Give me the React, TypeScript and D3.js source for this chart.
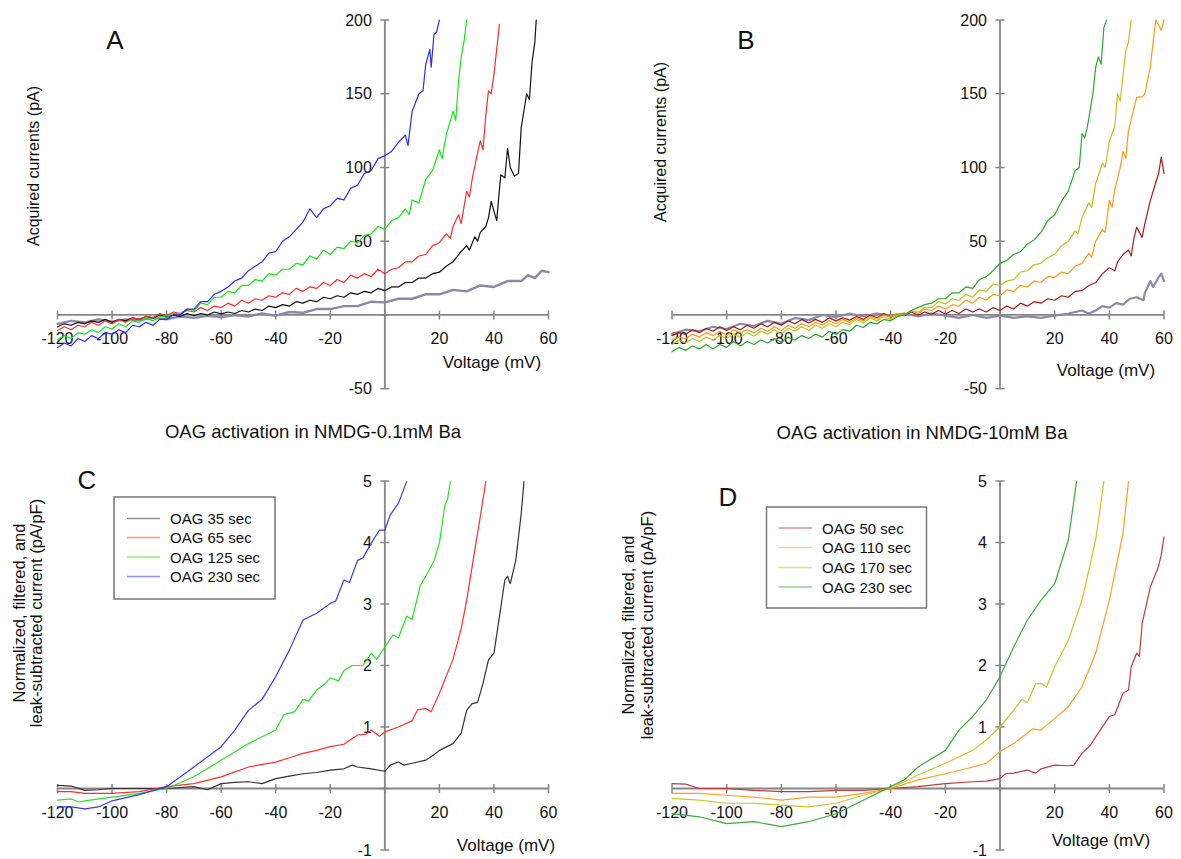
import React from "react";
import * as d3 from "d3";

// ---------- Tick labels ----------
const xTicks = [-120, -100, -80, -60, -40, -20, 20, 40, 60];
const xTickMarks = [-120, -100, -80, -60, -40, -20, 0, 20, 40, 60];
const yTicksAB = [-50, 50, 100, 150, 200];
const yTickMarksAB = [-50, 0, 50, 100, 150, 200];
const yTicksCD = [-1, 1, 2, 3, 4, 5];
const yTickMarksCD = [-1, 0, 1, 2, 3, 4, 5];

// ---------- Panel A : acquired currents, NMDG-0.1mM Ba (mV, pA) ----------
const A_ctrl: [number, number][] = [[-120,-6],[-115,-4],[-110,-5],[-105,-3],[-100,-4.5],[-95,-3],[-90,-3.5],[-85,-2],[-80,-3],[-75,-1],[-70,-2],[-65,-0.5],[-60,-1.5],[-55,0],[-50,-1],[-45,1],[-40,-0.5],[-35,2],[-30,1.5],[-25,4],[-20,4],[-15,6],[-10,6],[-5,9],[0,8.5],[5,11],[10,11],[15,14],[20,14],[25,17],[30,16],[35,20],[40,19],[45,23],[50,23],[52.5,27],[55,25],[57.5,30],[60,29]];
const A_35: [number, number][] = [[-120,-8],[-117.5,-6],[-115,-7],[-112.5,-5],[-110,-6],[-107.5,-4],[-105,-5],[-102.5,-3],[-100,-5],[-97.5,-3],[-95,-4],[-92.5,-2],[-90,-3],[-87.5,-1],[-85,-2],[-82.5,0],[-80,-1.5],[-77.5,0],[-75,-1],[-72.5,1],[-70,-0.5],[-67.5,1],[-65,0],[-62.5,2],[-60,0.7],[-57.5,2],[-55,1],[-52.5,3],[-50,2],[-47.5,4],[-45,3],[-42.5,6],[-40,5],[-37.5,7],[-35,6],[-32.5,9],[-30,8],[-27.5,10],[-25,9],[-22.5,12],[-20,11],[-17.5,13],[-15,12],[-12.5,15],[-10,14],[-7.5,16],[-5,15],[-2.5,18],[0,16.5],[2.5,19],[5,19],[7.5,22],[10,22],[12.5,25],[15,25],[17.5,28],[20,29],[22.5,33],[25,36],[27.5,42],[30,47],[31,44],[33,53],[34,50],[35,56],[37,60],[38,66],[39,77],[41,64],[42.5,95],[44,93],[45,113],[46,100],[47.5,94],[49,96],[50,127],[52,150],[53,146],[54,172],[55,185],[55.5,200]];
const A_65: [number, number][] = [[-120,-10.5],[-117.5,-8],[-115,-10],[-112.5,-7],[-110,-8],[-107.5,-5],[-105,-7],[-102.5,-4],[-100,-6],[-97.5,-3],[-95,-5],[-92.5,-2],[-90,-3],[-87.5,-1],[-85,-2],[-82.5,1],[-80,-0.5],[-77.5,2],[-75,1],[-72.5,3],[-70,2],[-67.5,5],[-65,3],[-62.5,6],[-60,5],[-57.5,8],[-55,6],[-52.5,10],[-50,8],[-47.5,11],[-45,10],[-42.5,13],[-40,12],[-37.5,15],[-35,14],[-32.5,18],[-30,16],[-27.5,19],[-25,18],[-22.5,22],[-20,20],[-17.5,24],[-15,22],[-12.5,27],[-10,25],[-7.5,28],[-5,26],[-2.5,31],[0,28],[2.5,31],[5,32],[7.5,36],[10,36],[12.5,40],[15,41],[17.5,47],[20,49],[22.5,55],[24,52],[25,60],[27,68],[28,62],[30,84],[31,80],[32,92],[34,110],[35,118],[36,112],[37,135],[38,152],[39,150],[40,163],[41,180],[42,197]];
const A_125: [number, number][] = [[-120,-17],[-117.5,-14],[-115,-16],[-112.5,-12],[-110,-13],[-107.5,-10],[-105,-12],[-102.5,-8],[-100,-9.5],[-97.5,-6],[-95,-8],[-92.5,-4],[-90,-5],[-87.5,-2],[-85,-4],[-82.5,-1],[-80,-1.5],[-77.5,1],[-75,1],[-72.5,4],[-70,3],[-67.5,8],[-65,7],[-62.5,12],[-60,12],[-57.5,16],[-55,15],[-52.5,20],[-50,20],[-47.5,24],[-45,23],[-42.5,28],[-40,27],[-37.5,31],[-35,31],[-32.5,35],[-30,34],[-27.5,40],[-25,38],[-22.5,44],[-20,41],[-17.5,46],[-15,45],[-12.5,50],[-10,49],[-7.5,54],[-5,55],[-2.5,60],[0,58],[2.5,64],[5,66],[7.5,72],[9,68],[10,78],[12.5,76],[15,92],[17.5,98],[20,112],[21,106],[22.5,122],[25,138],[26,132],[27,158],[28,175],[29,185],[30,200]];
const A_230: [number, number][] = [[-120,-22],[-117.5,-19],[-115,-21],[-112.5,-16],[-110,-18],[-107.5,-14],[-105,-16],[-102.5,-12],[-100,-13],[-97.5,-10],[-95,-12],[-92.5,-7],[-90,-8],[-87.5,-5],[-85,-7],[-82.5,-3],[-80,-3],[-77.5,0],[-75,0],[-72.5,4],[-70,4],[-67.5,9],[-65,9],[-62.5,14],[-60,16],[-57.5,19],[-55,23],[-52.5,25],[-50,30],[-47.5,33],[-45,36],[-42.5,42],[-40,43],[-37.5,50],[-35,53],[-32.5,58],[-30,63],[-27.5,72],[-25,66],[-22.5,72],[-20,74],[-17.5,79],[-15,78],[-12.5,86],[-10,88],[-7.5,96],[-5,98],[-2.5,106],[0,108],[2.5,111],[5,117],[7.5,122],[8.5,115],[10,138],[12.5,150],[14,152],[15,170],[16.5,180],[17,168],[18,190],[19,192],[20,200]];

// ---------- Panel B : acquired currents, NMDG-10mM Ba (mV, pA) ----------
const B_ctrl: [number, number][] = [[-120,-13],[-115,-10],[-110,-11],[-105,-8],[-100,-9.5],[-95,-6],[-90,-7.5],[-85,-4],[-80,-6],[-75,-2],[-70,-3.5],[-65,0],[-60,-1.5],[-55,1],[-50,-1],[-45,1],[-40,-0.5],[-35,1],[-30,-1],[-25,1],[-20,-0.5],[-15,-2],[-10,0],[-5,-2],[0,-0.5],[5,-2],[10,-1],[15,-2],[20,-0.5],[25,1],[30,3],[32.5,1],[35,3],[37.5,6],[40,5],[42.5,8],[45,7],[47.5,11],[50,12],[52.5,10],[53,15],[55,23],[56,19],[57,22],[58,25.5],[59,28],[60,23]];
const B_50: [number, number][] = [[-120,-14],[-117.5,-12],[-115,-13],[-112.5,-10],[-110,-12],[-107.5,-9],[-105,-11],[-102.5,-8],[-100,-10.6],[-97.5,-8],[-95,-10],[-92.5,-7],[-90,-9],[-87.5,-6],[-85,-8],[-82.5,-5],[-80,-7],[-77.5,-4],[-75,-6],[-72.5,-3],[-70,-5.5],[-67.5,-3],[-65,-5],[-62.5,-2],[-60,-4],[-57.5,-2],[-55,-3.5],[-52.5,-1],[-50,-3],[-47.5,0],[-45,-2],[-42.5,1],[-40,-1.5],[-37.5,1],[-35,-0.5],[-32.5,2],[-30,0],[-27.5,2],[-25,0.5],[-22.5,3],[-20,0.7],[-17.5,3],[-15,1],[-12.5,4],[-10,2],[-7.5,4],[-5,2],[-2.5,5],[0,3],[2.5,6],[5,4],[7.5,8],[10,6],[12.5,9],[15,8],[17.5,11],[20,10],[22.5,13],[25,12],[27.5,16],[30,16.5],[32.5,20],[35,22],[37.5,28],[40,32],[42,30],[43,36],[45,41],[47,44],[48,40],[49,52],[50,59.5],[52,52.6],[53,62],[55,77.5],[57,90],[58,95.6],[59,107],[60,96]];
const B_110: [number, number][] = [[-120,-17],[-117.5,-15],[-115,-16],[-112.5,-13],[-110,-15],[-107.5,-12],[-105,-14],[-102.5,-11],[-100,-14],[-97.5,-10],[-95,-12],[-92.5,-10],[-90,-12],[-87.5,-9],[-85,-11],[-82.5,-8],[-80,-10.6],[-77.5,-7],[-75,-9],[-72.5,-6],[-70,-8],[-67.5,-5],[-65,-7],[-62.5,-4],[-60,-6],[-57.5,-3],[-55,-5],[-52.5,-2],[-50,-4],[-47.5,-1],[-45,-2.5],[-42.5,0],[-40,-1.5],[-37.5,1],[-35,0],[-32.5,3],[-30,1],[-27.5,4],[-25,3],[-22.5,6],[-20,4],[-17.5,7],[-15,6],[-12.5,10],[-10,8],[-7.5,12],[-5,10],[-2.5,14],[0,13],[2.5,17],[5,16],[7.5,20],[10,19],[12.5,23],[15,22],[17.5,26],[20,25.5],[22.5,29],[25,28],[27.5,33],[30,35],[32.5,42],[33.5,39],[35,50],[37.5,58],[38.5,56],[40,77.5],[41,73],[42,85],[44,100],[45,111],[46,106],[47,125],[49,140],[50,147.6],[52,148],[53,150],[55,168],[56,185],[57,200],[59,193],[60,200]];
const B_170: [number, number][] = [[-120,-20],[-117.5,-17],[-115,-19],[-112.5,-16],[-110,-18],[-107.5,-15],[-105,-17],[-102.5,-14],[-100,-16],[-97.5,-13],[-95,-15],[-92.5,-12],[-90,-14.5],[-87.5,-11],[-85,-13],[-82.5,-10],[-80,-13],[-77.5,-9],[-75,-11],[-72.5,-8],[-70,-10.5],[-67.5,-7],[-65,-9],[-62.5,-6],[-60,-8],[-57.5,-5],[-55,-6.5],[-52.5,-3],[-50,-5.5],[-47.5,-2],[-45,-4],[-42.5,-1],[-40,-3],[-37.5,0],[-35,0],[-32.5,3],[-30,2],[-27.5,5],[-25,5],[-22.5,9],[-20,7.5],[-17.5,11],[-15,10],[-12.5,14],[-10,12],[-7.5,17],[-5,16],[-2.5,21],[0,20],[2.5,23],[5,24],[7.5,29],[10,30],[12.5,34],[15,35],[17.5,39],[20,41],[22.5,47],[25,50],[27.5,57],[28.5,55],[30,66],[32.5,76],[33.5,73],[35,89],[37.5,103],[38.5,100],[40,118],[42,128],[43,150],[44,145],[46,179],[47,185],[48,200]];
const B_230: [number, number][] = [[-120,-25],[-117.5,-22],[-115,-24],[-112.5,-21],[-110,-23],[-107.5,-20],[-105,-23],[-102.5,-20],[-100,-22],[-97.5,-18],[-95,-21],[-92.5,-18],[-90,-20],[-87.5,-17],[-85,-19],[-82.5,-16],[-80,-18.5],[-77.5,-15],[-75,-17],[-72.5,-14],[-70,-16],[-67.5,-13],[-65,-15],[-62.5,-11],[-60,-13],[-57.5,-10],[-55,-11],[-52.5,-7],[-50,-8.5],[-47.5,-5],[-45,-6],[-42.5,-3],[-40,-4],[-37.5,-1],[-35,0],[-32.5,3],[-30,5],[-27.5,7],[-25,8],[-22.5,11],[-20,11],[-17.5,15],[-15,15],[-12.5,19],[-10,18],[-7.5,24],[-5,26],[-2.5,30],[0,35],[2.5,37],[5,41],[7.5,43],[10,48],[12.5,51],[15,56],[17.5,64],[20,68],[22.5,77],[25,84],[27.5,98],[29,100],[30,123],[31,120],[32,128],[34,150],[35,168],[36,175],[37,170],[38,195],[39,200]];

// ---------- Panel C : normalized currents, NMDG-0.1mM Ba (mV, pA/pF) ----------
const C_35: [number, number][] = [[-120,0.05],[-115,0.04],[-110,-0.03],[-105,-0.02],[-100,0],[-90,0],[-80,0],[-70,0.03],[-65,-0.02],[-60,0.08],[-55,0.1],[-50,0.11],[-45,0.08],[-40,0.16],[-35,0.2],[-30,0.24],[-25,0.26],[-20,0.3],[-15,0.32],[-12,0.38],[-10,0.35],[-5,0.32],[0,0.28],[2,0.38],[5,0.43],[7,0.38],[10,0.41],[15,0.46],[18,0.55],[20,0.62],[25,0.73],[28,0.9],[30,1.27],[32,1.38],[34,1.4],[36,1.71],[38,2.09],[40,2.2],[42,2.79],[44,3.39],[45,3.45],[46,3.33],[48,3.71],[50,4.47],[51,4.99]];
const C_65: [number, number][] = [[-120,-0.05],[-115,-0.05],[-110,-0.08],[-100,-0.08],[-90,-0.05],[-80,0.03],[-70,0.08],[-60,0.19],[-50,0.35],[-40,0.43],[-35,0.5],[-30,0.57],[-25,0.62],[-20,0.68],[-15,0.72],[-10,0.87],[-7,0.88],[-5,0.95],[-2,0.85],[0,0.92],[5,1.0],[10,1.1],[12,1.28],[15,1.3],[17,1.25],[20,1.55],[25,2.1],[28,2.6],[30,3.06],[33,3.88],[35,4.42],[37,4.99]];
const C_125: [number, number][] = [[-120,-0.19],[-115,-0.17],[-112,-0.22],[-110,-0.2],[-100,-0.14],[-90,-0.08],[-80,0],[-70,0.19],[-60,0.46],[-50,0.73],[-40,0.95],[-37,1.2],[-33,1.25],[-30,1.45],[-28,1.42],[-25,1.6],[-22,1.7],[-20,1.8],[-17,1.75],[-15,1.92],[-12,2.0],[-8,2.0],[-5,2.2],[-3,2.1],[0,2.3],[3,2.5],[5,2.45],[8,2.8],[10,2.75],[13,3.3],[15,3.45],[18,3.7],[20,3.99],[22,4.6],[23,4.7],[24,4.99]];
const C_230: [number, number][] = [[-120,-0.3],[-115,-0.3],[-110,-0.33],[-105,-0.3],[-100,-0.2],[-90,-0.1],[-80,0.03],[-70,0.35],[-60,0.68],[-55,0.95],[-50,1.27],[-45,1.45],[-40,1.82],[-35,2.25],[-30,2.74],[-25,2.85],[-20,3.01],[-18,3.05],[-15,3.39],[-13,3.35],[-10,3.71],[-8,3.75],[-5,3.99],[-2,4.2],[0,4.2],[2,4.45],[5,4.64],[8,4.99]];

// ---------- Panel D : normalized currents, NMDG-10mM Ba (mV, pA/pF) ----------
const D_50: [number, number][] = [[-120,0.08],[-115,0.07],[-110,0],[-100,0],[-90,-0.03],[-80,-0.05],[-70,-0.05],[-60,-0.03],[-50,-0.03],[-40,0],[-30,0.03],[-20,0.08],[-10,0.11],[-5,0.12],[0,0.16],[2,0.24],[5,0.25],[10,0.3],[13,0.25],[15,0.32],[20,0.38],[25,0.37],[27,0.38],[30,0.57],[33,0.7],[35,0.84],[40,1.17],[42,1.2],[45,1.55],[47,1.6],[48,1.98],[50,2.2],[51,2.15],[52,2.68],[55,3.28],[58,3.61],[59,3.8],[60,4.09]];
const D_110: [number, number][] = [[-120,-0.08],[-110,-0.08],[-100,-0.11],[-90,-0.14],[-80,-0.19],[-70,-0.14],[-60,-0.14],[-50,-0.08],[-40,0],[-30,0.14],[-20,0.24],[-10,0.35],[-5,0.41],[0,0.6],[5,0.73],[10,0.9],[12,0.97],[15,0.95],[20,1.14],[25,1.33],[30,1.65],[35,2.2],[40,3.06],[45,4.15],[47,4.99]];
const D_170: [number, number][] = [[-120,-0.16],[-110,-0.19],[-100,-0.24],[-90,-0.24],[-80,-0.27],[-70,-0.3],[-60,-0.24],[-50,-0.11],[-40,0],[-30,0.22],[-20,0.41],[-10,0.62],[-5,0.79],[0,1.0],[5,1.27],[8,1.45],[10,1.4],[13,1.7],[15,1.71],[17,1.65],[20,1.98],[25,2.41],[30,3.06],[35,4.04],[38,4.99]];
const D_230: [number, number][] = [[-120,-0.41],[-110,-0.46],[-100,-0.57],[-90,-0.54],[-80,-0.62],[-70,-0.54],[-60,-0.41],[-50,-0.19],[-40,0.03],[-35,0.14],[-30,0.35],[-20,0.62],[-15,0.95],[-10,1.17],[-5,1.44],[0,1.82],[5,2.3],[10,2.74],[15,3.06],[20,3.33],[25,4.04],[28,4.99]];

// ---------- Legends / titles ----------
const legendC = ["OAG 35 sec", "OAG 65 sec", "OAG 125 sec", "OAG 230 sec"];
const legendD = ["OAG 50 sec", "OAG 110 sec", "OAG 170 sec", "OAG 230 sec"];
const titleC = "OAG activation in NMDG-0.1mM Ba";
const titleD = "OAG activation in NMDG-10mM Ba";

const FONT = "'Liberation Sans', Arial, Helvetica, sans-serif";
const AXIS = "#868686";

type Series = { data: [number, number][]; color: string; width: number };

function Panel(props: {
  x0: number; x1: number; y0: number; y1: number;
  yDomain: [number, number];
  yTicks: number[]; yMarks: number[];
  series: Series[];
  id: string;
}) {
  const { x0, x1, y0, y1, yDomain, yTicks, yMarks, series, id } = props;
  const x = d3.scaleLinear().domain([-120, 60]).range([x0, x1]);
  const y = d3.scaleLinear().domain(yDomain).range([y1, y0]);
  const line = d3.line<[number, number]>().x(d => x(d[0])).y(d => y(d[1])).curve(d3.curveLinear);
  const ax = x(0), ay = y(0);
  return (
    <g>
      <defs>
        <clipPath id={id}>
          <rect x={x0 - 2} y={y0 - 1} width={x1 - x0 + 4} height={y1 - y0 + 2} />
        </clipPath>
      </defs>
      <line x1={x0} x2={x1} y1={ay} y2={ay} stroke={AXIS} strokeWidth={1.8} />
      <line x1={ax} x2={ax} y1={y0} y2={y1} stroke={AXIS} strokeWidth={1.8} />
      {xTickMarks.map(t => (
        <line key={"xt" + t} x1={x(t)} x2={x(t)} y1={ay - 4.5} y2={ay + 4.5} stroke={AXIS} strokeWidth={1.5} />
      ))}
      {yMarks.map(t => (
        <line key={"yt" + t} x1={ax - 4.5} x2={ax + 4.5} y1={y(t)} y2={y(t)} stroke={AXIS} strokeWidth={1.5} />
      ))}
      {xTicks.map(t => (
        <text key={"xl" + t} x={x(t)} y={ay + 24} textAnchor="middle" dominantBaseline="central"
          fontFamily={FONT} fontSize={16} fill="#111">{t}</text>
      ))}
      {yTicks.map(t => (
        <text key={"yl" + t} x={ax - 13} y={y(t)} textAnchor="end" dominantBaseline="central"
          fontFamily={FONT} fontSize={16} fill="#111">{t}</text>
      ))}
      <g clipPath={`url(#${id})`}>
        {series.map((s, i) => (
          <path key={i} d={line(s.data) || ""} fill="none" stroke={s.color} strokeWidth={s.width}
            strokeLinejoin="round" strokeLinecap="round" />
        ))}
      </g>
    </g>
  );
}

function Legend(props: { x: number; y: number; w: number; h: number; lx0: number; lx1: number; tx: number; rows: number[]; labels: string[]; colors: string[] }) {
  const { x, y, w, h, lx0, lx1, tx, rows, labels, colors } = props;
  return (
    <g>
      <rect x={x} y={y} width={w} height={h} fill="white" stroke="#777" strokeWidth={1.5} />
      {labels.map((l, i) => (
        <g key={l}>
          <line x1={lx0} x2={lx1} y1={rows[i]} y2={rows[i]} stroke={colors[i]} strokeWidth={1.5} strokeOpacity={0.55} />
          <text x={tx} y={rows[i]} dominantBaseline="central" fontFamily={FONT} fontSize={15} fill="#111">{l}</text>
        </g>
      ))}
    </g>
  );
}

export default function App() {
  const colA = { c: "#8a8aa8", k: "#111111", r: "#ff2a2a", g: "#12e812", b: "#2a2aff" };
  const colB = { c: "#8a8aa8", dr: "#a81818", o: "#ff9a10", yl: "#bcc41a", g: "#2aa82a" };
  const colC = ["#333333", "#ff2e2e", "#22e622", "#3838ff"];
  const colD = ["#c03a3a", "#ffa020", "#c8c820", "#3aaa3a"];

  const seriesA: Series[] = [
    { data: A_ctrl, color: colA.c, width: 2.4 },
    { data: A_35, color: colA.k, width: 1.2 },
    { data: A_65, color: colA.r, width: 1.2 },
    { data: A_125, color: colA.g, width: 1.2 },
    { data: A_230, color: colA.b, width: 1.2 },
  ];
  const seriesB: Series[] = [
    { data: B_ctrl, color: colB.c, width: 2.2 },
    { data: B_50, color: colB.dr, width: 1.2 },
    { data: B_110, color: colB.o, width: 1.2 },
    { data: B_170, color: colB.yl, width: 1.2 },
    { data: B_230, color: colB.g, width: 1.2 },
  ];
  const seriesC: Series[] = [C_35, C_65, C_125, C_230].map((d, i) => ({ data: d, color: colC[i], width: 1.2 }));
  const seriesD: Series[] = [D_50, D_110, D_170, D_230].map((d, i) => ({ data: d, color: colD[i], width: 1.2 }));

  const txt = (x: number, y: number, s: string, fs: number, extra: any = {}) => (
    <text x={x} y={y} fontFamily={FONT} fontSize={fs} fill="#111" textAnchor="middle" dominantBaseline="central" {...extra}>{s}</text>
  );

  return (
    <svg width={1181} height={859} style={{ position: "absolute", left: 0, top: 0, background: "white" }}>
      <rect width={1181} height={859} fill="white" />
      <Panel id="cA" x0={57.5} x1={548.5} y0={20} y1={388.7} yDomain={[-50, 200]} yTicks={yTicksAB} yMarks={yTickMarksAB} series={seriesA} />
      <Panel id="cB" x0={672} x1={1164} y0={20} y1={388.7} yDomain={[-50, 200]} yTicks={yTicksAB} yMarks={yTickMarksAB} series={seriesB} />
      <Panel id="cC" x0={57.5} x1={548.5} y0={481} y1={850} yDomain={[-1, 5]} yTicks={yTicksCD} yMarks={yTickMarksCD} series={seriesC} />
      <Panel id="cD" x0={672} x1={1164} y0={481} y1={850} yDomain={[-1, 5]} yTicks={yTicksCD} yMarks={yTickMarksCD} series={seriesD} />

      {txt(115, 40, "A", 26)}
      {txt(746, 40, "B", 26)}
      {txt(87, 480, "C", 26)}
      {txt(728, 497, "D", 26)}

      {txt(492, 362, "Voltage (mV)", 17)}
      {txt(1106, 370, "Voltage (mV)", 17)}
      {txt(506, 845, "Voltage (mV)", 17)}
      {txt(1101, 840, "Voltage (mV)", 17)}

      {txt(0, 0, "Acquired currents (pA)", 16, { transform: "translate(33,166) rotate(-90)" })}
      {txt(0, 0, "Acquired currents (pA)", 16, { transform: "translate(660,142) rotate(-90)" })}
      <g transform="translate(0,613) rotate(-90)">
        {txt(0, 19, "Normalized, filtered, and", 16.5)}
        {txt(0, 36, "leak-subtracted current (pA/pF)", 16.5)}
      </g>
      <g transform="translate(0,625) rotate(-90)">
        {txt(0, 628, "Normalized, filtered, and", 16.5)}
        {txt(0, 647, "leak-subtracted current (pA/pF)", 16.5)}
      </g>

      {txt(313, 431, titleC, 18.5)}
      {txt(922, 432, titleD, 18.5)}

      <Legend x={114} y={497} w={161} h={102} lx0={127} lx1={160} tx={170} rows={[518.5, 537.5, 557, 576.5]} labels={legendC} colors={colC} />
      <Legend x={766.5} y={507} w={160} h={101} lx0={778.5} lx1={812} tx={822} rows={[528, 547.5, 567.5, 587]} labels={legendD} colors={colD} />
    </svg>
  );
}
